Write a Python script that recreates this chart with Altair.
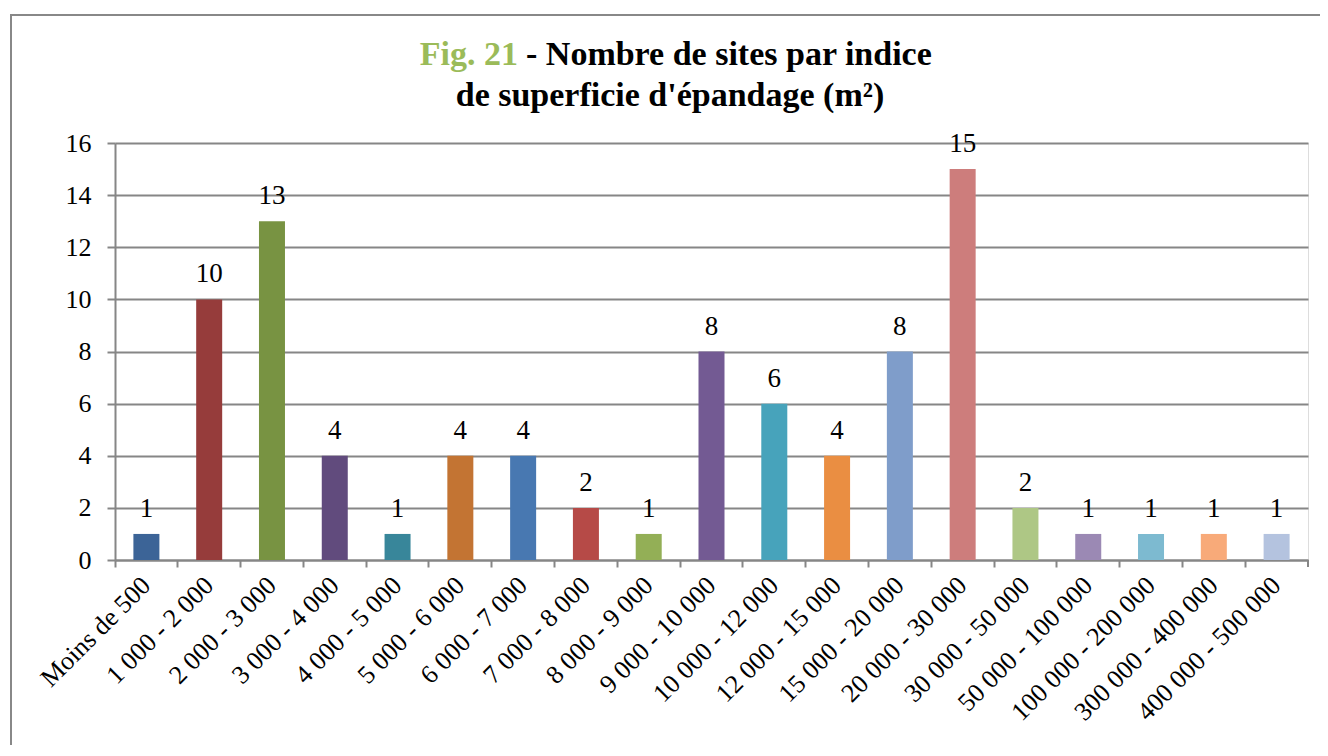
import altair as alt
import pandas as pd

categories = ["Moins de 500", "1 000 - 2 000", "2 000 - 3 000", "3 000 - 4 000",
              "4 000 - 5 000", "5 000 - 6 000", "6 000 - 7 000", "7 000 - 8 000",
              "8 000 - 9 000", "9 000 - 10 000", "10 000 - 12 000", "12 000 - 15 000",
              "15 000 - 20 000", "20 000 - 30 000", "30 000 - 50 000", "50 000 - 100 000",
              "100 000 - 200 000", "300 000 - 400 000", "400 000 - 500 000"]
counts = [1, 10, 13, 4, 1, 4, 4, 2, 1, 8, 6, 4, 8, 15, 2, 1, 1, 1, 1]
colors = ["#3C6497", "#963C3B", "#789342", "#614B7D", "#38869A", "#C37433",
          "#4878B1", "#B64A47", "#93AF56", "#735A93", "#47A3BB", "#EA8E42",
          "#7F9DCA", "#CD7D7C", "#AEC785", "#9B89B4", "#7DBAD0", "#F8AA79", "#B4C3DF"]
y_ticks = [0, 2, 4, 6, 8, 10, 12, 14, 16]
title_green = "Fig. 21"
title_line1 = "- Nombre de sites par indice"
title_line2 = "de superficie d'épandage (m²)"

df = pd.DataFrame({"cat": categories, "n": counts})

W, H = 1193, 417
FONT = "Liberation Serif"
GRAY = "#868686"

x = alt.X("cat:N", sort=categories,
          scale=alt.Scale(paddingInner=0, paddingOuter=0),
          axis=alt.Axis(title=None, bandPosition=0,
                        labelAngle=315, labelAlign="right", labelBaseline="middle",
                        labelFont=FONT, labelFontSize=26, labelColor="black",
                        labelPadding=14, labelLimit=0, tickSize=7, tickWidth=2,
                        tickColor=GRAY, domainColor=GRAY, domainWidth=2, grid=False,
                        labelOverlap=False))
y = alt.Y("n:Q", scale=alt.Scale(domain=[0, 16], nice=False),
          axis=alt.Axis(title=None, values=y_ticks, grid=True, gridColor=GRAY, gridWidth=2,
                        domainColor=GRAY, domainWidth=2, tickColor=GRAY, tickWidth=2,
                        tickSize=8, labelPadding=16, labelFont=FONT, labelFontSize=26,
                        labelColor="black"))

base = alt.Chart(df)
bars = base.mark_bar(size=26).encode(
    x=x, y=y,
    color=alt.Color("cat:N", scale=alt.Scale(domain=categories, range=colors), legend=None),
)
labels = base.mark_text(dy=-17, baseline="alphabetic", font=FONT, fontSize=27,
                        color="black").encode(x=x, y=y, text="n:Q")

end_tick = alt.Chart(df).mark_rule(color=GRAY, strokeWidth=2).encode(
    x=alt.value(W), y=alt.value(H), y2=alt.value(H + 7))

frame = alt.Chart(df).mark_rect(fillOpacity=0, stroke="#888888", strokeWidth=2).encode(
    x=alt.value(-104), x2=alt.value(W + 300), y=alt.value(-128), y2=alt.value(H + 400))

t_green = alt.Chart(pd.DataFrame({"t": [title_green]})).mark_text(
    align="right", baseline="alphabetic", font=FONT, fontSize=34, fontWeight="bold",
    color="#9BBB59").encode(x=alt.value(403), y=alt.value(-78), text="t:N")
t_line1 = alt.Chart(pd.DataFrame({"t": [title_line1]})).mark_text(
    align="left", baseline="alphabetic", font=FONT, fontSize=34, fontWeight="bold",
    color="black").encode(x=alt.value(411), y=alt.value(-78), text="t:N")
t_line2 = alt.Chart(pd.DataFrame({"t": [title_line2]})).mark_text(
    align="center", baseline="alphabetic", font=FONT, fontSize=34, fontWeight="bold",
    color="black").encode(x=alt.value(555), y=alt.value(-37), text="t:N")

chart = alt.layer(frame, bars, labels, end_tick, t_green, t_line1, t_line2).properties(
    width=W, height=H,
    autosize=alt.AutoSizeParams(type="none"),
    padding={"left": 107, "top": 135, "right": 12, "bottom": 185},
).configure_view(stroke=None).configure(background="white")

chart.save("out.html", embed_options={"renderer": "svg", "actions": False})
